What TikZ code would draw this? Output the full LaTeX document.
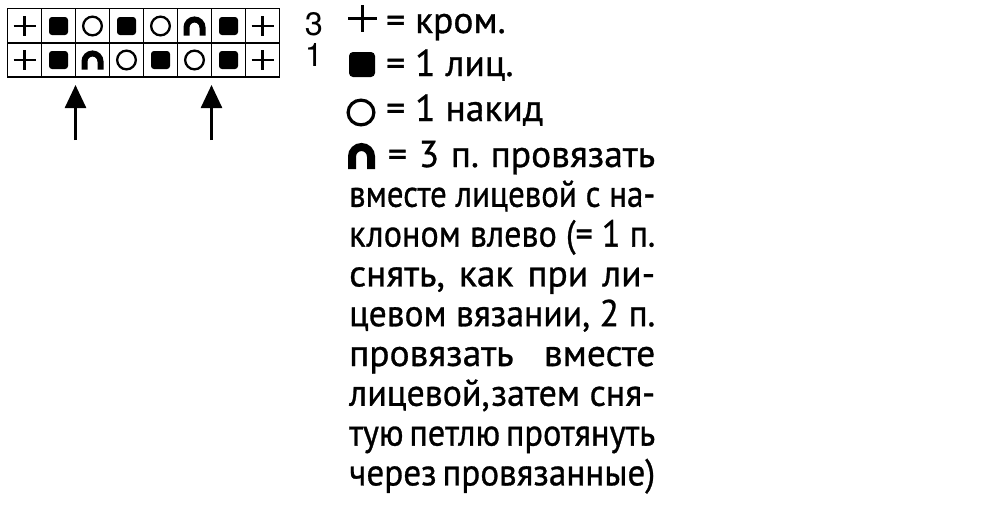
\documentclass[tikz,border=0pt]{standalone}
\usepackage{fontspec}
\usepackage{graphicx}
\setmainfont[FakeBold=0.8]{PT Sans}
\newfontfamily\helvf{TeX Gyre Heros}
\usetikzlibrary{arrows.meta}
\frenchspacing
\newsavebox\lbox
\newcommand\jl[1]{\sbox\lbox{#1}\ifdim\wd\lbox>306pt\resizebox{306pt}{\height}{\usebox\lbox}\else\makebox[306pt][s]{#1}\fi}
% symbols: centre x, centre y, half width, half height, line width
\newcommand\plussym[5]{\draw[line width=#5] (#1-#3,#2) -- (#1+#3,#2) (#1,#2-#4) -- (#1,#2+#4);}
\newcommand\knitsym[5]{\fill[rounded corners=#5] (#1-#3,#2-#4) rectangle (#1+#3,#2+#4);}
\newcommand\yosym[5]{\draw[line width=#5] (#1,#2) ellipse [x radius=#3-#5/2, y radius=#4-#5/2];}
\newcommand\archsym[5]{\draw[line width=#5] (#1-#3+#5/2,#2+#4) -- (#1-#3+#5/2,#2-#4+#5/2+#3-#5/2) arc[start angle=180, end angle=360, radius=#3-#5/2] -- (#1+#3-#5/2,#2+#4);}
\tikzset{
  txt/.style={inner sep=0pt, font=\fontsize{37.5pt}{40pt}\selectfont, anchor=base west},
  rowlab/.style={inner sep=0pt, anchor=base},
  gridline/.style={line width=1.1pt, draw=black},
  uparrow/.style={line width=2.6pt, -{Triangle[width=21pt,length=23pt]}}
}
\begin{document}
\begin{tikzpicture}[x=1pt,y=-1pt]
\useasboundingbox (0,0) rectangle (1000,512);
\fill[white] (0,0) rectangle (1000,512);
% grid
\draw[gridline] (7.5,8.5) rectangle (279.5,77);
\draw[gridline] (7.5,43) -- (279.5,43);
\foreach \i in {1,...,7} {\draw[gridline] (7.5+34*\i,8.5) -- (7.5+34*\i,77);}
% row 3 (top)
\def\ya{26}
\plussym{24.5}{\ya}{11}{10}{2.2}
\knitsym{58.5}{\ya}{9.5}{9}{3}
\yosym{92.5}{\ya}{10.5}{10.5}{2.3}
\knitsym{126.5}{\ya}{9.5}{9}{3}
\yosym{160.5}{\ya}{10.5}{10.5}{2.3}
\archsym{194.5}{\ya}{11}{9.5}{6}
\knitsym{228.5}{\ya}{9.5}{9}{3}
\plussym{262.5}{\ya}{11}{10}{2.2}
% row 1 (bottom)
\def\yb{60}
\plussym{24.5}{\yb}{11}{10}{2.2}
\knitsym{58.5}{\yb}{9.5}{9}{3}
\archsym{92.5}{\yb}{11}{9.5}{6}
\yosym{126.5}{\yb}{10.5}{10.5}{2.3}
\knitsym{160.5}{\yb}{9.5}{9}{3}
\yosym{194.5}{\yb}{10.5}{10.5}{2.3}
\knitsym{228.5}{\yb}{9.5}{9}{3}
\plussym{262.5}{\yb}{11}{10}{2.2}
% row labels
\node[rowlab] (r3) at (314,35) {\helvf\fontsize{25pt}{28pt}\selectfont\scalebox{1.3}{3}};
\node[rowlab] (r1) at (314,66) {\helvf\fontsize{25pt}{28pt}\selectfont\scalebox{1.3}{1}};
% arrows
\coordinate (a1s) at (75.5,140);
\coordinate (a1e) at (75.5,85);
\coordinate (a2s) at (211.5,140);
\coordinate (a2e) at (211.5,85);
\draw[uparrow] (a1s) -- (a1e);
\draw[uparrow] (a2s) -- (a2e);
% legend symbols
\plussym{362.5}{18.5}{14.5}{13.5}{3}
\knitsym{362}{64.5}{13}{12.5}{4}
\yosym{361}{112.5}{14.5}{14}{3.2}
\archsym{361.5}{156}{13.5}{13}{8}
% legend texts
\node[txt] (t1) at (386,33) {= кром.};
\node[txt] (t2) at (386,76) {= 1 лиц.};
\node[txt] (t3) at (386,121) {= 1 накид};
\node[txt] (t4) at (349,167) {\jl{\hspace*{27pt} = 3 п. провязать}};
\node[txt] (t5) at (349,206.8) {\jl{вместе лицевой с на-}};
\node[txt] (t6) at (349,246.6) {\jl{клоном влево (= 1 п.}};
\node[txt] (t7) at (349,286.4) {\jl{снять, как при ли-}};
\node[txt] (t8) at (349,326.2) {\jl{цевом вязании, 2 п.}};
\node[txt] (t9) at (349,366) {\jl{провязать вместе}};
\node[txt] (t10) at (349,405.8) {\jl{лицевой,затем сня-}};
\node[txt] (t11) at (349,445.6) {\jl{тую\,петлю\,протянуть}};
\node[txt] (t12) at (349,485.4) {\jl{через\,провязанные)}};
\end{tikzpicture}
\end{document}
